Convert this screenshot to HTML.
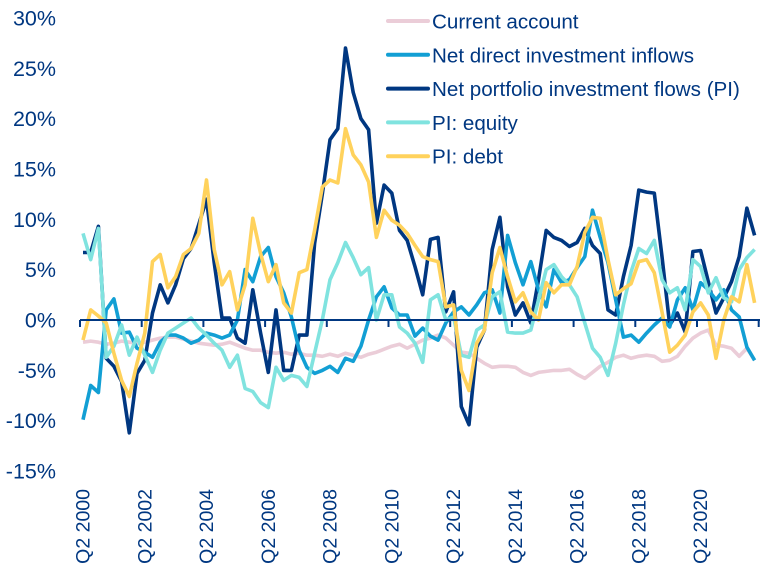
<!DOCTYPE html>
<html><head><meta charset="utf-8"><style>
html,body{margin:0;padding:0;background:#fff;}
svg{display:block;font-family:"Liberation Sans",sans-serif;}
</style></head><body>
<svg id="chart" width="768" height="583" viewBox="0 0 768 583"></svg>
<script>
const yTicks=[30,25,20,15,10,5,0,-5,-10,-15];
const xLabels=["Q2 2000","Q2 2002","Q2 2004","Q2 2006","Q2 2008","Q2 2010","Q2 2012","Q2 2014","Q2 2016","Q2 2018","Q2 2020"];
const seriesNames=["Current account","Net direct investment inflows","Net portfolio investment flows (PI)","PI: equity","PI: debt"];
const currentAccount=[-2.2,-2.1,-2.2,-2.4,-2.3,-2.1,-2.2,-2.3,-2.2,-2.0,-1.8,-1.7,-1.7,-1.9,-2.1,-2.3,-2.4,-2.5,-2.4,-2.2,-2.5,-2.8,-3.0,-3.0,-3.2,-3.3,-3.2,-3.4,-3.3,-3.5,-3.5,-3.6,-3.4,-3.6,-3.3,-3.5,-3.7,-3.4,-3.2,-2.9,-2.6,-2.4,-2.8,-2.4,-2.0,-1.8,-1.5,-1.8,-2.5,-3.2,-3.3,-3.8,-4.3,-4.7,-4.6,-4.6,-4.7,-5.2,-5.5,-5.2,-5.1,-5.0,-5.0,-4.9,-5.4,-5.8,-5.2,-4.6,-4.2,-3.7,-3.5,-3.8,-3.6,-3.5,-3.6,-4.1,-4.0,-3.6,-2.6,-1.8,-1.3,-1.0,-2.5,-2.6,-2.8,-3.6,-2.8,-4.0];
const directInv=[-9.9,-6.5,-7.2,1,2.1,-1.3,-1.2,-2.8,-3.2,-3.7,-2.2,-1.5,-1.5,-1.8,-2.3,-2,-1.3,-1.5,-1.8,-1.5,0,5,3.8,6.3,7.2,4.3,2.7,0.3,-3,-4.7,-5.3,-5,-4.6,-5.2,-3.8,-4.1,-2.6,0,2.3,3.3,1.2,0.5,0.5,-1.6,-0.8,-1.6,-2,-0.3,0.8,1.3,0.5,1.5,2.7,3,0.7,8.4,5.7,3.5,5.8,3,1.3,5,3.7,4,5.2,6.3,10.9,8.2,5.7,2,-1.7,-1.5,-2.2,-1.3,-0.5,0.2,-0.7,2,3.2,1,3.7,3,2,3,1,0.3,-2.7,-4];
const portfolio=[6.7,6.7,9.3,-3.8,-4.6,-6.1,-11.2,-5.3,-4,0.7,3.5,1.7,3.5,6.1,7.1,9.5,12,5.7,0.2,0.2,-1.8,-2.3,3,-1.3,-5.2,1,-5,-5,-1.5,-1.5,7.6,12.5,17.9,19,27,22.6,20,18.9,9.6,13.4,12.6,8.9,7.9,5.3,2.5,8,8.2,0.8,2.8,-8.6,-10.4,-2.7,-1,7,10.2,3.3,0.5,1.7,-0.3,4,8.9,8.2,7.9,7.3,7.7,9.1,7.4,6.6,1,0.5,4.3,7.4,12.9,12.7,12.6,6.3,-0.5,0.7,-1.2,6.8,6.9,3.8,0.7,2.2,3.8,6.3,11.1,8.4];
const equity=[8.6,6,9.1,-3.7,-2.6,-0.5,-3.5,-1.7,-3.5,-5.2,-3,-1.3,-0.8,-0.3,0.2,-0.8,-1.5,-2.3,-3,-4.7,-3.5,-6.8,-7.1,-8.2,-8.7,-4.7,-6,-5.5,-5.7,-6.6,-3.3,0,4,5.7,7.7,6.2,4.5,5.2,0,2.5,2.5,-0.7,-1.3,-2.3,-4.2,2,2.5,0,0.3,-3.5,-3.7,-1,-0.5,2.3,2.8,-1.2,-1.3,-1.3,-1,2,5,5.5,4.3,3.5,2.3,-0.3,-2.8,-3.7,-5.5,-2.3,1.5,4.8,7.1,6.6,7.9,4,2.7,3.2,1,6,5.3,2.7,4.2,2.2,1.8,5,6.2,7];
const debt=[-2,1,0.4,-0.3,-3.3,-6,-7.6,-4.3,-1.3,5.8,6.5,3.2,4.3,6.5,7.1,8.6,13.9,7,3.5,4.8,1,3.5,10.1,6.6,3.8,5.5,1.7,0.7,4.7,5,8.9,13.2,13.9,13.6,19,16.4,15.4,13.7,8.2,10.9,9.9,9.4,8.6,7.4,6.3,6,5.8,1.3,1.5,-5,-7,-2.3,-1,4.7,7.2,4.3,1.8,2.7,0.8,0,3.7,2.7,3.5,3.5,5.3,8.7,10.2,10.1,6,2.5,3.1,3.6,5.8,6,4.7,0.8,-3.2,-2.5,-1.5,0.8,1.7,0.5,-3.8,0,2.3,1.8,5.5,1.7];

const NS="http://www.w3.org/2000/svg";
const svg=document.getElementById('chart');
const NAVY="#003781";
function y(v){return 320-v*10.07;}
function x(i){return 83+i*7.72;}
function mk(t,a){const e=document.createElementNS(NS,t);for(const k in a)e.setAttribute(k,a[k]);svg.appendChild(e);return e;}

yTicks.forEach(v=>{
  const t=mk('text',{x:56,y:y(v)+7.5,'text-anchor':'end','font-size':21.5,fill:NAVY});
  t.textContent=v+'%';
  
  
});
const seriesData=[currentAccount,portfolio,directInv,equity,debt];
const colors=["#ebcdd8","#003781","#129fd4","#80e3df","#ffd25c"];
const names=["current-account-line","portfolio-flows-line","direct-investment-line","equity-line","debt-line"];
seriesData.forEach((d,k)=>{
  const p=mk('polyline',{points:d.map((v,i)=>x(i).toFixed(1)+','+y(v).toFixed(1)).join(' '),fill:'none',stroke:colors[k],'stroke-width':3.6,'stroke-linejoin':'round'});
  
  
});
const ax=mk('line',{x1:80,x2:760,y1:320,y2:320,stroke:NAVY,'stroke-width':2});


for(let k=0;k<=11;k++){
  const tx=80+k*61.7;
  const tk=mk('line',{x1:tx,x2:tx,y1:320,y2:327,stroke:NAVY,'stroke-width':2});
  
  
}
xLabels.forEach((l,k)=>{
  const cx=x(k*8)+6.5;
  const t=mk('text',{x:0,y:0,'text-anchor':'end','font-size':19.5,fill:NAVY,transform:`translate(${cx.toFixed(1)},489) rotate(-90)`});
  t.textContent=l;
  
  
});
const legColors=["#ebcdd8","#129fd4","#003781","#80e3df","#ffd25c"];
seriesNames.forEach((n,k)=>{
  const ly=21+k*33.8;
  const ln=mk('line',{x1:388,x2:428,y1:ly,y2:ly,stroke:legColors[k],'stroke-width':4,'stroke-linecap':'round'});
  
  
  const t=mk('text',{x:432,y:ly+7.5,'font-size':20.6,fill:NAVY});
  t.textContent=n;
  
  
});
</script>
</body></html>
